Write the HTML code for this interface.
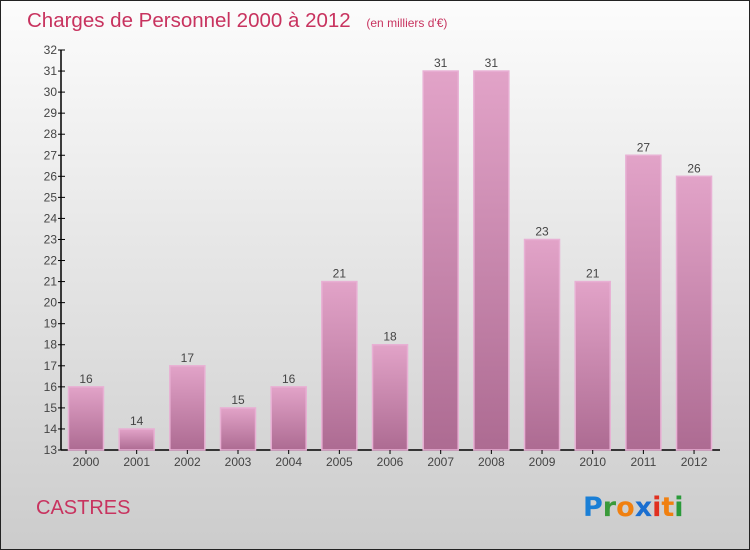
<!DOCTYPE html>
<html><head><meta charset="utf-8"><style>
body{margin:0}
#c{width:750px;height:550px;position:relative;box-sizing:border-box;border:1px solid #222;background:linear-gradient(#fcfcfc,#cccccc);font-family:"Liberation Sans",sans-serif;overflow:hidden}
</style></head><body>
<div id="c">
<svg width="748" height="548" id="s">
<defs><linearGradient id="g" x1="0" y1="0" x2="0" y2="1"><stop offset="0" stop-color="#e2a3c8"/><stop offset="1" stop-color="#ad6b92"/></linearGradient></defs>
<text x="26" y="26" font-size="20.5" fill="#c8335f">Charges de Personnel 2000 à 2012 <tspan font-size="12" dx="10">(en milliers d'€)</tspan></text>
<text x="35" y="513" font-size="20" fill="#c8335f">CASTRES</text>
<g font-size="27" font-weight="bold" font-family="'DejaVu Sans',sans-serif">
<text x="582" y="515"><tspan fill="#1a7fd6">P</tspan><tspan fill="#3a9a3a">r</tspan><tspan fill="#f08010">o</tspan><tspan fill="#1a6ed0">x</tspan><tspan fill="#e03020">i</tspan><tspan fill="#f08010">t</tspan><tspan fill="#2a9a3a">i</tspan></text></g>
<g id="plot"></g>
</svg></div>
<script>
const categories=["2000","2001","2002","2003","2004","2005","2006","2007","2008","2009","2010","2011","2012"];
const values=[16,14,17,15,16,21,18,31,31,23,21,27,26];
const yTicks=[13,14,15,16,17,18,19,20,21,22,23,24,25,26,27,28,29,30,31,32];
const ox=-1,oy=-1;
const yMin=13,yMax=32,yTop=50,yBot=450;
const y=v=>oy+yBot-(v-yMin)*(yBot-yTop)/(yMax-yMin);
const x=i=>ox+86+i*50.67;
const ns="http://www.w3.org/2000/svg";
const p=document.getElementById('plot');
function mk(t,a){const e=document.createElementNS(ns,t);for(const k in a)e.setAttribute(k,a[k]);p.appendChild(e);return e;}
let ax=mk('line',{x1:ox+61,y1:y(32),x2:ox+61,y2:y(13),stroke:'#000','stroke-width':1.5});


let bx=mk('line',{x1:ox+61,y1:y(13),x2:ox+720,y2:y(13),stroke:'#000','stroke-width':1.5});


yTicks.forEach(t=>{
 mk('line',{x1:ox+58,x2:ox+65,y1:y(t),y2:y(t),stroke:'#000'});
 const tx=mk('text',{x:ox+57,y:y(t)+4,'font-size':12,fill:'#444','text-anchor':'end'});
 tx.textContent=t;
 
 
});
categories.forEach((c,i)=>{
 const cx=x(i);
 const r=mk('rect',{x:cx-17.5,y:y(values[i]),width:35,height:y(13)-y(values[i]),fill:'url(#g)',stroke:'#e8b0d4','stroke-width':1.5});
 
 
 mk('line',{x1:cx,x2:cx,y1:y(13),y2:y(13)+4,stroke:'#000'});
 const l=mk('text',{x:cx,y:y(13)+16,'font-size':12,fill:'#444','text-anchor':'middle'});
 l.textContent=c;
 
 
 const v=mk('text',{x:cx,y:y(values[i])-4,'font-size':12,fill:'#444','text-anchor':'middle'});
 v.textContent=values[i];
 
 
});
</script>
</body></html>
